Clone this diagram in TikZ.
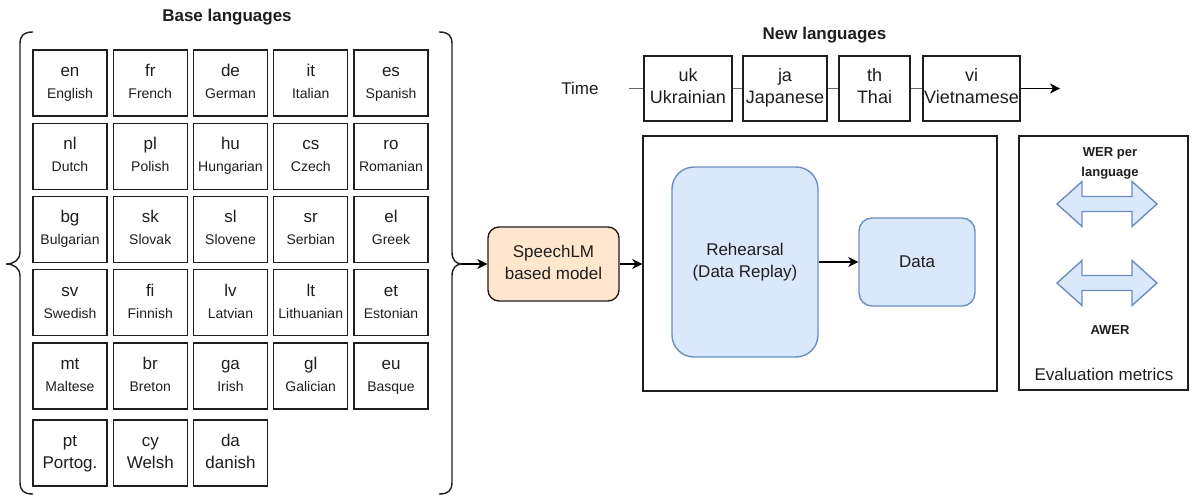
\documentclass[tikz,border=0pt]{standalone}
\usepackage{fontspec}
\setmainfont{Liberation Sans}
\usetikzlibrary{arrows.meta}
\definecolor{bluefill}{HTML}{DAE8FC}
\definecolor{bluedraw}{HTML}{6C8EBF}
\definecolor{orangefill}{HTML}{FFE6CC}
\definecolor{ink}{HTML}{1E1E1E}
\definecolor{tgray}{HTML}{6A6A6A}
\newcommand\fs[2]{\fontsize{#1}{#2}\selectfont}
% two struts-balanced lines, so every box puts its text at the same height
\newcommand\twolines[2]{#1\strut\\#2\strut}

\tikzset{
  langbox/.style={draw=ink, line width=1.4pt, minimum width=74pt, minimum height=66pt,
    inner sep=0pt, align=center, text=ink, font=\fs{17}{22}},
  newbox/.style={draw=ink, line width=1.4pt, minimum height=65pt, inner sep=0pt,
    align=center, text=ink, font=\fs{18}{22}},
  title/.style={font=\bfseries\fs{17}{20}, text=ink},
  plain/.style={font=\fs{17}{22}, text=ink, align=center},
  brace/.style={draw=ink, line width=1.4pt},
  arr/.style={draw=black, line width=1.4pt, -{Stealth[length=10pt,width=10pt,inset=3pt]}},
  tline/.style={draw=tgray, line width=1.5pt},
  blueround/.style={draw=bluedraw, fill=bluefill, line width=1.4pt, align=center,
    text=ink, font=\fs{17}{22}},
  frame/.style={draw=ink, line width=1.4pt},
  dblarrow/.pic={
    \draw[draw=bluedraw, fill=bluefill, line width=1.4pt, line join=miter]
      (-50,0) -- (-25,-22.5) -- (-25,-7.5) -- (25,-7.5) -- (25,-22.5) -- (50,0)
      -- (25,22.5) -- (25,7.5) -- (-25,7.5) -- (-25,22.5) -- cycle;
  }
}

\begin{document}
\begin{tikzpicture}[x=1pt,y=-1pt]
\useasboundingbox (0,0) rectangle (1192,495);

% ---------- base languages ----------
\node[title] (basetitle) at (227,17) {Base languages};

\foreach \code/\name/\c/\r in {
  en/English/0/0, fr/French/1/0, de/German/2/0, it/Italian/3/0, es/Spanish/4/0,
  nl/Dutch/0/1, pl/Polish/1/1, hu/Hungarian/2/1, cs/Czech/3/1, ro/Romanian/4/1,
  bg/Bulgarian/0/2, sk/Slovak/1/2, sl/Slovene/2/2, sr/Serbian/3/2, el/Greek/4/2,
  sv/Swedish/0/3, fi/Finnish/1/3, lv/Latvian/2/3, lt/Lithuanian/3/3, et/Estonian/4/3,
  mt/Maltese/0/4, br/Breton/1/4, ga/Irish/2/4, gl/Galician/3/4, eu/Basque/4/4}
  \node[langbox] (lang-\code) at ({70+80.25*\c},{83+73.25*\r})
    {\twolines{\code}{\fs{14}{22}\name}};

\node[langbox] (lang-pt) at (70,453)     {\twolines{pt}{Portog.}};
\node[langbox] (lang-cy) at (150.25,453) {\twolines{cy}{Welsh}};
\node[langbox] (lang-da) at (230.5,453)  {\twolines{da}{danish}};

% curly braces around the grid
\draw[brace] (33,32) .. controls (24,32) and (20,35) .. (20,44) -- (20,252)
  .. controls (20,260) and (14,264) .. (6,264)
  .. controls (14,264) and (20,268) .. (20,276) -- (20,482)
  .. controls (20,491) and (24,494) .. (33,494);
\draw[brace] (439,32) .. controls (448,32) and (452,35) .. (452,44) -- (452,252)
  .. controls (452,260) and (456,264) .. (462,264)
  .. controls (456,264) and (452,268) .. (452,276) -- (452,482)
  .. controls (452,491) and (448,494) .. (439,494);
\coordinate (bracetip) at (462,264);

% ---------- model ----------
\node[draw=ink, fill=orangefill, line width=1.4pt, rounded corners=11pt,
  minimum width=131pt, minimum height=74pt, align=center, text=ink,
  font=\fs{17}{22}] (model) at (553.5,264) {\twolines{SpeechLM}{based model}};
\draw[arr] (bracetip) -- (model);

% ---------- new languages timeline ----------
\node[title] (newtitle) at (824.5,35) {New languages};
\node[plain] (time) at (580,88) {Time};
\coordinate (tstart) at (629,88.5);
\node[newbox, minimum width=88pt] (uk) at (688,88.5)   {\twolines{uk}{Ukrainian}};
\node[newbox, minimum width=84pt] (ja) at (785,88.5)   {\twolines{ja}{Japanese}};
\node[newbox, minimum width=71pt] (th) at (874.5,88.5) {\twolines{th}{Thai}};
\node[newbox, minimum width=97pt] (vi) at (971.5,88.5) {\twolines{vi}{Vietnamese}};
\coordinate (tend) at (1060,88.5);
\draw[tline] (tstart) -- (uk);
\draw[tline] (uk) -- (ja);
\draw[tline] (ja) -- (th);
\draw[tline] (th) -- (vi);
\draw[arr] (vi) -- (tend);

% ---------- rehearsal block ----------
\node[frame, minimum width=354pt, minimum height=255pt, inner sep=0pt] (cl) at (820,263.5) {};
\draw[arr] (model) -- (cl.west |- model);
\node[blueround, rounded corners=22pt, minimum width=146pt, minimum height=190pt] (rehearsal)
  at (745,262) {\twolines{Rehearsal}{(Data Replay)}};
\node[blueround, rounded corners=13pt, minimum width=116pt, minimum height=88pt] (data)
  at (917,262) {Data};
\draw[arr] (rehearsal) -- (data);

% ---------- evaluation metrics ----------
\node[frame, minimum width=169pt, minimum height=254pt, inner sep=0pt] (eval) at (1103.5,263) {};
\pic at (1107,204) {dblarrow};
\pic at (1107,283) {dblarrow};
\node[font=\bfseries\fs{13}{20}, text=ink, align=center] (wer) at (1110,163) {WER per\\language};
\node[font=\bfseries\fs{13}{16}, text=ink] (awer) at (1110,330) {AWER};
\node[plain] (evallabel) at (1104,374) {Evaluation metrics};
\end{tikzpicture}
\end{document}
